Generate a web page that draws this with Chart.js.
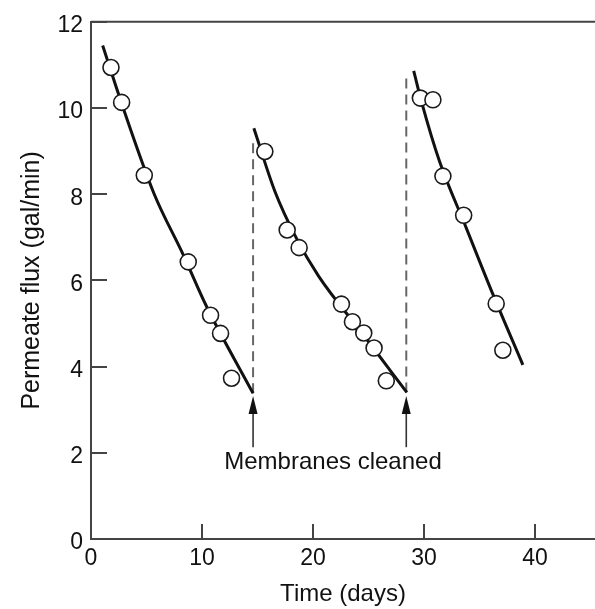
<!DOCTYPE html>
<html>
<head>
<meta charset="utf-8">
<script src="https://cdn.jsdelivr.net/npm/chart.js@4"></script>
<style>
  html, body { margin: 0; padding: 0; background: #fff; }
  canvas { display: block; }
</style>
</head>
<body>
<canvas id="chart" width="595" height="609"></canvas>
<script>
// measured flux, one array pair per run between cleanings
const run1Days = [1.8, 2.76, 4.8, 8.76, 10.77, 11.67, 12.66];
const run1Flux = [10.94, 10.13, 8.44, 6.43, 5.19, 4.77, 3.73];
const run2Days = [15.66, 17.67, 18.75, 22.56, 23.55, 24.57, 25.5, 26.6];
const run2Flux = [8.99, 7.17, 6.76, 5.45, 5.04, 4.78, 4.43, 3.67];
const run3Days = [29.67, 30.8, 31.7, 33.57, 36.5, 37.1];
const run3Flux = [10.23, 10.19, 8.42, 7.51, 5.46, 4.38];

// hand-drawn trend curves
const fit1Days = [1.05, 2.9, 5.7, 8.3, 10.4, 14.6];
const fit1Flux = [11.45, 10.0, 8.0, 6.6, 5.4, 3.38];
const fit2Days = [14.67, 16.56, 18.5, 20.5, 24.5, 28.45];
const fit2Flux = [9.53, 8.07, 6.98, 6.1, 4.75, 3.4];
const fit3Days = [29.07, 29.77, 31.4, 33.8, 36.2, 38.9];
const fit3Flux = [10.86, 10.15, 8.76, 7.22, 5.68, 4.04];

// membrane cleaning events
const cleanDays = [14.6, 28.4];
const cleanTop = [9.2, 10.77];
const cleanBottom = [3.38, 3.4];
const arrowFrom = 2.13;
const arrowTip = 3.32;
const noteText = 'Membranes cleaned';
const noteDay = 21.8;
const noteFlux = 1.78;

const xTicks = [0, 10, 20, 30, 40];
const yTicks = [0, 2, 4, 6, 8, 10, 12];

const FONT = '"Liberation Sans", Arial, Helvetica, sans-serif';
const INK = '#111';
const AXIS = '#444';

const pts = (xs, ys) => xs.map((x, i) => ({ x: x, y: ys[i] }));

function runSet(xs, ys) {
  return {
    data: pts(xs, ys),
    showLine: false,
    pointRadius: 8,
    pointHoverRadius: 8,
    pointBorderWidth: 1.6,
    pointBorderColor: '#1a1a1a',
    pointBackgroundColor: '#fff',
    order: 0
  };
}

function fitSet(xs, ys) {
  return {
    data: pts(xs, ys),
    showLine: true,
    borderColor: INK,
    borderWidth: 3,
    cubicInterpolationMode: 'monotone',
    pointRadius: 0,
    order: 1
  };
}

const dashSets = cleanDays.map((d, i) => ({
  data: [{ x: d, y: cleanBottom[i] }, { x: d, y: cleanTop[i] }],
  showLine: true,
  borderColor: '#666',
  borderWidth: 2,
  borderDash: [10, 6],
  pointRadius: 0,
  order: 2
}));

// top frame line, inward tick marks, arrows and the note
const extras = {
  id: 'extras',
  afterDraw(chart) {
    const ctx = chart.ctx;
    const xs = chart.scales.x;
    const ys = chart.scales.y;
    const area = chart.chartArea;
    ctx.save();
    ctx.strokeStyle = AXIS;
    ctx.lineWidth = 2;
    ctx.beginPath();
    ctx.moveTo(area.left, area.top);
    ctx.lineTo(area.right, area.top);
    ctx.stroke();

    yTicks.forEach(v => {
      const py = Math.round(ys.getPixelForValue(v));
      ctx.beginPath();
      ctx.moveTo(area.left, py);
      ctx.lineTo(area.left + 16, py);
      ctx.stroke();
    });
    xTicks.forEach(v => {
      const px = Math.round(xs.getPixelForValue(v));
      ctx.beginPath();
      ctx.moveTo(px, area.bottom);
      ctx.lineTo(px, area.bottom - 15);
      ctx.stroke();
    });

    cleanDays.forEach(d => {
      const px = xs.getPixelForValue(d);
      const yFrom = ys.getPixelForValue(arrowFrom);
      const yTip = ys.getPixelForValue(arrowTip);
      ctx.strokeStyle = '#333';
      ctx.lineWidth = 1.6;
      ctx.beginPath();
      ctx.moveTo(px, yFrom);
      ctx.lineTo(px, yTip + 14);
      ctx.stroke();
      ctx.fillStyle = INK;
      ctx.beginPath();
      ctx.moveTo(px, yTip);
      ctx.lineTo(px - 4.5, yTip + 18);
      ctx.lineTo(px + 4.5, yTip + 18);
      ctx.closePath();
      ctx.fill();
    });

    ctx.fillStyle = INK;
    ctx.font = '24px ' + FONT;
    ctx.textAlign = 'center';
    ctx.textBaseline = 'middle';
    ctx.fillText(noteText, xs.getPixelForValue(noteDay), ys.getPixelForValue(noteFlux));
    ctx.restore();
  }
};

new Chart(document.getElementById('chart'), {
  type: 'scatter',
  data: {
    datasets: [
      runSet(run1Days, run1Flux),
      runSet(run2Days, run2Flux),
      runSet(run3Days, run3Flux),
      fitSet(fit1Days, fit1Flux),
      fitSet(fit2Days, fit2Flux),
      fitSet(fit3Days, fit3Flux)
    ].concat(dashSets)
  },
  options: {
    responsive: false,
    animation: false,
    layout: { autoPadding: false, padding: { top: 20, right: 0, bottom: 0, left: 0 } },
    plugins: {
      legend: { display: false },
      tooltip: { enabled: false }
    },
    scales: {
      x: {
        type: 'linear',
        min: 0,
        max: 45.4,
        grid: { display: false, drawTicks: false },
        border: { display: true, color: AXIS, width: 2 },
        afterBuildTicks: s => { s.ticks = xTicks.map(v => ({ value: v })); },
        afterFit: s => { s.height = 70; s.paddingLeft = 0; s.paddingRight = 0; },
        ticks: {
          color: INK,
          font: { family: FONT, size: 23 },
          padding: 6,
          maxRotation: 0
        },
        title: {
          display: true,
          text: 'Time (days)',
          color: INK,
          font: { family: FONT, size: 24 },
          padding: { top: 0, bottom: 0 }
        }
      },
      y: {
        min: 0,
        max: 12,
        grid: { display: false, drawTicks: false },
        border: { display: true, color: AXIS, width: 2 },
        afterBuildTicks: s => { s.ticks = yTicks.map(v => ({ value: v })); },
        afterFit: s => { s.width = 91; },
        ticks: {
          color: INK,
          font: { family: FONT, size: 23 },
          padding: 8,
          labelOffset: 4
        },
        title: {
          display: true,
          text: 'Permeate flux (gal/min)',
          color: INK,
          font: { family: FONT, size: 25 },
          padding: { top: 17, bottom: 0 }
        }
      }
    }
  },
  plugins: [extras]
});
</script>
</body>
</html>
